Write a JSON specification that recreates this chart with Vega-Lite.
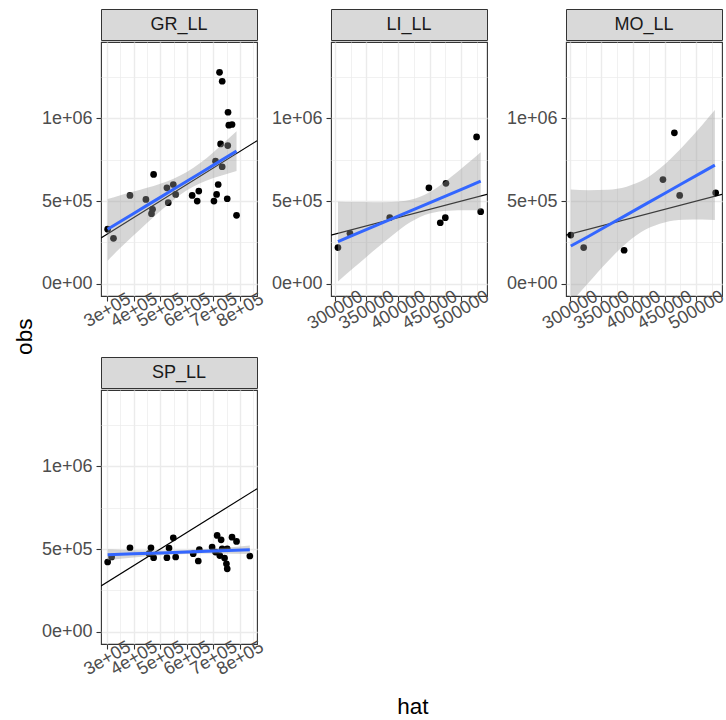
{
  "$schema": "https://vega.github.io/schema/vega-lite/v6.json",
  "background": "white",
  "padding": {"left": 14, "top": 8, "right": 0, "bottom": 5},
  "config": {
    "font": "Liberation Sans",
    "view": {"stroke": "#333333", "strokeWidth": 1.1},
    "axis": {"domain": false, "grid": true, "gridColor": "#EBEBEB", "tickColor": "#333333", "tickWidth": 1.1, "tickSize": 5, "labelFont": "Liberation Sans", "labelFontSize": 18, "labelColor": "#4D4D4D", "labelPadding": 3, "labelOverlap": false, "labelFlush": false},
    "axisX": {"labelAngle": -30, "labelAlign": "center", "labelBaseline": "middle", "labelPadding": 9},
    "axisY": {"labelPadding": 4},
    "title": {"font": "Liberation Sans", "fontWeight": "normal", "color": "#000000", "fontSize": 22.5}
  },
  "datasets": {
    "strips": [{"panel": "GR_LL"}, {"panel": "LI_LL"}, {"panel": "MO_LL"}, {"panel": "SP_LL"}],
    "pts": [
      {"panel": "GR_LL", "hat": 302000, "obs": 330000},
      {"panel": "GR_LL", "hat": 324000, "obs": 275000},
      {"panel": "GR_LL", "hat": 386000, "obs": 534000},
      {"panel": "GR_LL", "hat": 446000, "obs": 510000},
      {"panel": "GR_LL", "hat": 475000, "obs": 661000},
      {"panel": "GR_LL", "hat": 471000, "obs": 450000},
      {"panel": "GR_LL", "hat": 467000, "obs": 424000},
      {"panel": "GR_LL", "hat": 525000, "obs": 580000},
      {"panel": "GR_LL", "hat": 530000, "obs": 490000},
      {"panel": "GR_LL", "hat": 549000, "obs": 600000},
      {"panel": "GR_LL", "hat": 558000, "obs": 540000},
      {"panel": "GR_LL", "hat": 620000, "obs": 534000},
      {"panel": "GR_LL", "hat": 645000, "obs": 560000},
      {"panel": "GR_LL", "hat": 639000, "obs": 500000},
      {"panel": "GR_LL", "hat": 702000, "obs": 500000},
      {"panel": "GR_LL", "hat": 712000, "obs": 540000},
      {"panel": "GR_LL", "hat": 718000, "obs": 600000},
      {"panel": "GR_LL", "hat": 708000, "obs": 741000},
      {"panel": "GR_LL", "hat": 733000, "obs": 707000},
      {"panel": "GR_LL", "hat": 723000, "obs": 1277000},
      {"panel": "GR_LL", "hat": 733000, "obs": 1223000},
      {"panel": "GR_LL", "hat": 727000, "obs": 845000},
      {"panel": "GR_LL", "hat": 754000, "obs": 835000},
      {"panel": "GR_LL", "hat": 755000, "obs": 1036000},
      {"panel": "GR_LL", "hat": 758000, "obs": 958000},
      {"panel": "GR_LL", "hat": 770000, "obs": 962000},
      {"panel": "GR_LL", "hat": 752000, "obs": 514000},
      {"panel": "GR_LL", "hat": 787000, "obs": 414000},
      {"panel": "LI_LL", "hat": 305000, "obs": 219000},
      {"panel": "LI_LL", "hat": 324000, "obs": 305000},
      {"panel": "LI_LL", "hat": 387000, "obs": 400000},
      {"panel": "LI_LL", "hat": 449000, "obs": 580000},
      {"panel": "LI_LL", "hat": 476000, "obs": 607000},
      {"panel": "LI_LL", "hat": 467000, "obs": 369000},
      {"panel": "LI_LL", "hat": 475000, "obs": 400000},
      {"panel": "LI_LL", "hat": 524500, "obs": 887000},
      {"panel": "LI_LL", "hat": 531000, "obs": 436000},
      {"panel": "MO_LL", "hat": 301600, "obs": 295000},
      {"panel": "MO_LL", "hat": 322000, "obs": 219000},
      {"panel": "MO_LL", "hat": 386000, "obs": 203000},
      {"panel": "MO_LL", "hat": 447500, "obs": 630000},
      {"panel": "MO_LL", "hat": 465600, "obs": 912000},
      {"panel": "MO_LL", "hat": 474000, "obs": 534000},
      {"panel": "MO_LL", "hat": 531000, "obs": 550000},
      {"panel": "SP_LL", "hat": 302000, "obs": 422000},
      {"panel": "SP_LL", "hat": 317000, "obs": 452000},
      {"panel": "SP_LL", "hat": 386000, "obs": 508000},
      {"panel": "SP_LL", "hat": 465000, "obs": 508000},
      {"panel": "SP_LL", "hat": 475000, "obs": 448000},
      {"panel": "SP_LL", "hat": 458000, "obs": 472000},
      {"panel": "SP_LL", "hat": 525000, "obs": 448000},
      {"panel": "SP_LL", "hat": 533000, "obs": 506000},
      {"panel": "SP_LL", "hat": 549000, "obs": 568000},
      {"panel": "SP_LL", "hat": 558000, "obs": 452000},
      {"panel": "SP_LL", "hat": 624000, "obs": 472000},
      {"panel": "SP_LL", "hat": 643000, "obs": 428000},
      {"panel": "SP_LL", "hat": 647000, "obs": 496000},
      {"panel": "SP_LL", "hat": 695000, "obs": 512000},
      {"panel": "SP_LL", "hat": 714000, "obs": 582000},
      {"panel": "SP_LL", "hat": 729000, "obs": 556000},
      {"panel": "SP_LL", "hat": 708000, "obs": 482000},
      {"panel": "SP_LL", "hat": 724000, "obs": 461000},
      {"panel": "SP_LL", "hat": 742000, "obs": 446000},
      {"panel": "SP_LL", "hat": 749000, "obs": 411000},
      {"panel": "SP_LL", "hat": 752000, "obs": 381000},
      {"panel": "SP_LL", "hat": 752000, "obs": 502000},
      {"panel": "SP_LL", "hat": 770000, "obs": 572000},
      {"panel": "SP_LL", "hat": 787000, "obs": 546000},
      {"panel": "SP_LL", "hat": 837000, "obs": 458000},
      {"panel": "SP_LL", "hat": 733000, "obs": 502000}
    ],
    "abl": [
      {"panel": "GR_LL", "hat": 277000, "obs": 277000},
      {"panel": "GR_LL", "hat": 864000, "obs": 864000},
      {"panel": "LI_LL", "hat": 294000, "obs": 294000},
      {"panel": "LI_LL", "hat": 541000, "obs": 541000},
      {"panel": "MO_LL", "hat": 294000, "obs": 294000},
      {"panel": "MO_LL", "hat": 541000, "obs": 541000},
      {"panel": "SP_LL", "hat": 277000, "obs": 277000},
      {"panel": "SP_LL", "hat": 864000, "obs": 864000}
    ],
    "rib": [
      {"panel": "GR_LL", "hat": 302000, "fit": 330000, "lo": 140000, "hi": 512000},
      {"panel": "GR_LL", "hat": 350000, "fit": 376600, "lo": 217600, "hi": 535600},
      {"panel": "GR_LL", "hat": 400000, "fit": 425200, "lo": 293000, "hi": 557000},
      {"panel": "GR_LL", "hat": 450000, "fit": 473800, "lo": 368000, "hi": 580000},
      {"panel": "GR_LL", "hat": 500000, "fit": 522400, "lo": 440000, "hi": 605000},
      {"panel": "GR_LL", "hat": 550000, "fit": 571000, "lo": 507000, "hi": 635000},
      {"panel": "GR_LL", "hat": 600000, "fit": 619700, "lo": 565000, "hi": 675000},
      {"panel": "GR_LL", "hat": 650000, "fit": 668300, "lo": 607000, "hi": 729000},
      {"panel": "GR_LL", "hat": 700000, "fit": 716900, "lo": 639000, "hi": 795000},
      {"panel": "GR_LL", "hat": 750000, "fit": 765600, "lo": 664000, "hi": 867000},
      {"panel": "GR_LL", "hat": 787000, "fit": 801500, "lo": 681000, "hi": 922000},
      {"panel": "LI_LL", "hat": 305000, "fit": 255000, "lo": 14000, "hi": 496000},
      {"panel": "LI_LL", "hat": 330000, "fit": 295400, "lo": 97000, "hi": 494000},
      {"panel": "LI_LL", "hat": 360000, "fit": 343800, "lo": 195000, "hi": 493000},
      {"panel": "LI_LL", "hat": 390000, "fit": 392300, "lo": 289000, "hi": 495000},
      {"panel": "LI_LL", "hat": 420000, "fit": 440700, "lo": 373000, "hi": 508000},
      {"panel": "LI_LL", "hat": 450000, "fit": 489200, "lo": 425000, "hi": 553000},
      {"panel": "LI_LL", "hat": 480000, "fit": 537600, "lo": 442000, "hi": 633000},
      {"panel": "LI_LL", "hat": 510000, "fit": 586000, "lo": 445000, "hi": 727000},
      {"panel": "LI_LL", "hat": 531000, "fit": 620000, "lo": 445000, "hi": 795000},
      {"panel": "MO_LL", "hat": 301600, "fit": 229000, "lo": -112000, "hi": 570000},
      {"panel": "MO_LL", "hat": 330000, "fit": 287700, "lo": 9000, "hi": 566000},
      {"panel": "MO_LL", "hat": 360000, "fit": 352200, "lo": 135500, "hi": 569000},
      {"panel": "MO_LL", "hat": 390000, "fit": 416700, "lo": 247000, "hi": 587000},
      {"panel": "MO_LL", "hat": 420000, "fit": 481200, "lo": 328000, "hi": 634000},
      {"panel": "MO_LL", "hat": 450000, "fit": 545700, "lo": 371000, "hi": 720000},
      {"panel": "MO_LL", "hat": 480000, "fit": 610200, "lo": 387000, "hi": 834000},
      {"panel": "MO_LL", "hat": 510000, "fit": 674700, "lo": 388000, "hi": 961000},
      {"panel": "MO_LL", "hat": 529700, "fit": 717000, "lo": 385000, "hi": 1049000},
      {"panel": "SP_LL", "hat": 302000, "fit": 465600, "lo": 432600, "hi": 498600},
      {"panel": "SP_LL", "hat": 400000, "fit": 471200, "lo": 449000, "hi": 493000},
      {"panel": "SP_LL", "hat": 500000, "fit": 476800, "lo": 463000, "hi": 491000},
      {"panel": "SP_LL", "hat": 600000, "fit": 482500, "lo": 470500, "hi": 494500},
      {"panel": "SP_LL", "hat": 700000, "fit": 488200, "lo": 473000, "hi": 503000},
      {"panel": "SP_LL", "hat": 837000, "fit": 496000, "lo": 470000, "hi": 522000}
    ]
  },
  "title": {"text": "hat", "orient": "bottom", "anchor": "middle", "offset": 17, "dx": 42},
  "vconcat": [
    {
      "title": {"text": "obs", "orient": "left", "anchor": "middle", "offset": 4, "dx": 7},
      "spacing": 22,
      "vconcat": [
        {
          "spacing": 3,
          "hconcat": [
            {
              "spacing": 0,
              "vconcat": [
                {"width": 156, "height": 31, "data": {"name": "strips"}, "transform": [{"filter": "datum.panel === 'GR_LL'"}],
                 "view": {"fill": "#D9D9D9", "stroke": "#333333"},
                 "mark": {"type": "text", "fontSize": 18, "color": "#1A1A1A"},
                 "encoding": {"text": {"field": "panel"}}},
                {"width": 156, "height": 254,
                 "encoding": {
                   "x": {"field": "hat", "type": "quantitative", "scale": {"domain": [277000, 864000], "nice": false, "zero": false},
                         "axis": {"title": null, "labelOverlap": false, "labelFlush": false, "values": [300000, 350000, 400000, 450000, 500000, 550000, 600000, 650000, 700000, 750000, 800000, 850000],
                                  "labelExpr": "datum.value % 100000 === 0 ? (datum.value / 100000) + 'e+05' : ''",
                                  "tickOpacity": {"condition": {"test": "datum.value % 100000 !== 0", "value": 0}, "value": 1},
                                  "gridWidth": {"condition": {"test": "datum.value % 100000 !== 0", "value": 0.7}, "value": 1.4}}}
                 },
                 "layer": [
                   {"data": {"name": "pts"}, "transform": [{"filter": "datum.panel === 'GR_LL'"}],
                    "mark": {"type": "circle", "size": 45, "color": "#000000", "opacity": 1},
                    "encoding": {
                      "y": {"field": "obs", "type": "quantitative", "scale": {"domain": [-73000, 1460000], "nice": false, "zero": false},
                            "axis": {"title": null, "labelOverlap": false, "values": [0, 250000, 500000, 750000, 1000000, 1250000],
                                     "labelExpr": "datum.value === 0 ? '0e+00' : datum.value === 500000 ? '5e+05' : datum.value === 1000000 ? '1e+06' : ''",
                                     "tickOpacity": {"condition": {"test": "datum.value % 500000 !== 0", "value": 0}, "value": 1},
                                     "gridWidth": {"condition": {"test": "datum.value % 500000 !== 0", "value": 0.7}, "value": 1.4}}}}},
                   {"data": {"name": "abl"}, "transform": [{"filter": "datum.panel === 'GR_LL'"}],
                    "mark": {"type": "line", "color": "#000000", "strokeWidth": 1.2, "clip": true},
                    "encoding": {
                      "y": {"field": "obs", "type": "quantitative", "scale": {"domain": [-73000, 1460000], "nice": false, "zero": false}, "axis": {"title": null}}}},
                   {"data": {"name": "rib"}, "transform": [{"filter": "datum.panel === 'GR_LL'"}],
                    "mark": {"type": "area", "color": "#999999", "opacity": 0.4, "clip": true, "interpolate": "monotone"},
                    "encoding": {
                      "y": {"field": "lo", "type": "quantitative", "scale": {"domain": [-73000, 1460000], "nice": false, "zero": false}, "axis": {"title": null}},
                      "y2": {"field": "hi"}}},
                   {"data": {"name": "rib"}, "transform": [{"filter": "datum.panel === 'GR_LL'"}],
                    "mark": {"type": "line", "color": "#3366FF", "strokeWidth": 3, "clip": true},
                    "encoding": {
                      "y": {"field": "fit", "type": "quantitative", "scale": {"domain": [-73000, 1460000], "nice": false, "zero": false}, "axis": {"title": null}}}}
                 ]}
              ]
            },
            {
              "spacing": 12,
              "hconcat": [
                {
                  "spacing": 0,
                  "vconcat": [
                    {"width": 156, "height": 31, "data": {"name": "strips"}, "transform": [{"filter": "datum.panel === 'LI_LL'"}],
                     "view": {"fill": "#D9D9D9", "stroke": "#333333"},
                     "mark": {"type": "text", "fontSize": 18, "color": "#1A1A1A"},
                     "encoding": {"text": {"field": "panel"}}},
                    {"width": 156, "height": 254,
                     "encoding": {
                       "x": {"field": "hat", "type": "quantitative", "scale": {"domain": [294000, 541000], "nice": false, "zero": false},
                             "axis": {"title": null, "labelOverlap": false, "labelFlush": false, "values": [300000, 325000, 350000, 375000, 400000, 425000, 450000, 475000, 500000, 525000],
                                      "labelExpr": "datum.value % 50000 === 0 ? format(datum.value, 'd') : ''",
                                      "tickOpacity": {"condition": {"test": "datum.value % 50000 !== 0", "value": 0}, "value": 1},
                                      "gridWidth": {"condition": {"test": "datum.value % 50000 !== 0", "value": 0.7}, "value": 1.4}}}
                     },
                     "layer": [
                       {"data": {"name": "pts"}, "transform": [{"filter": "datum.panel === 'LI_LL'"}],
                        "mark": {"type": "circle", "size": 45, "color": "#000000", "opacity": 1},
                        "encoding": {
                          "y": {"field": "obs", "type": "quantitative", "scale": {"domain": [-73000, 1460000], "nice": false, "zero": false},
                                "axis": {"title": null, "labelOverlap": false, "values": [0, 250000, 500000, 750000, 1000000, 1250000],
                                         "labelExpr": "datum.value === 0 ? '0e+00' : datum.value === 500000 ? '5e+05' : datum.value === 1000000 ? '1e+06' : ''",
                                         "tickOpacity": {"condition": {"test": "datum.value % 500000 !== 0", "value": 0}, "value": 1},
                                         "gridWidth": {"condition": {"test": "datum.value % 500000 !== 0", "value": 0.7}, "value": 1.4}}}}},
                       {"data": {"name": "abl"}, "transform": [{"filter": "datum.panel === 'LI_LL'"}],
                        "mark": {"type": "line", "color": "#000000", "strokeWidth": 1.2, "clip": true},
                        "encoding": {
                          "y": {"field": "obs", "type": "quantitative", "scale": {"domain": [-73000, 1460000], "nice": false, "zero": false}, "axis": {"title": null}}}},
                       {"data": {"name": "rib"}, "transform": [{"filter": "datum.panel === 'LI_LL'"}],
                        "mark": {"type": "area", "color": "#999999", "opacity": 0.4, "clip": true, "interpolate": "monotone"},
                        "encoding": {
                          "y": {"field": "lo", "type": "quantitative", "scale": {"domain": [-73000, 1460000], "nice": false, "zero": false}, "axis": {"title": null}},
                          "y2": {"field": "hi"}}},
                       {"data": {"name": "rib"}, "transform": [{"filter": "datum.panel === 'LI_LL'"}],
                        "mark": {"type": "line", "color": "#3366FF", "strokeWidth": 3, "clip": true},
                        "encoding": {
                          "y": {"field": "fit", "type": "quantitative", "scale": {"domain": [-73000, 1460000], "nice": false, "zero": false}, "axis": {"title": null}}}}
                     ]}
                  ]
                },
                {
                  "spacing": 0,
                  "vconcat": [
                    {"width": 156, "height": 31, "data": {"name": "strips"}, "transform": [{"filter": "datum.panel === 'MO_LL'"}],
                     "view": {"fill": "#D9D9D9", "stroke": "#333333"},
                     "mark": {"type": "text", "fontSize": 18, "color": "#1A1A1A"},
                     "encoding": {"text": {"field": "panel"}}},
                    {"width": 156, "height": 254,
                     "encoding": {
                       "x": {"field": "hat", "type": "quantitative", "scale": {"domain": [294000, 541000], "nice": false, "zero": false},
                             "axis": {"title": null, "labelOverlap": false, "labelFlush": false, "values": [300000, 325000, 350000, 375000, 400000, 425000, 450000, 475000, 500000, 525000],
                                      "labelExpr": "datum.value % 50000 === 0 ? format(datum.value, 'd') : ''",
                                      "tickOpacity": {"condition": {"test": "datum.value % 50000 !== 0", "value": 0}, "value": 1},
                                      "gridWidth": {"condition": {"test": "datum.value % 50000 !== 0", "value": 0.7}, "value": 1.4}}}
                     },
                     "layer": [
                       {"data": {"name": "pts"}, "transform": [{"filter": "datum.panel === 'MO_LL'"}],
                        "mark": {"type": "circle", "size": 45, "color": "#000000", "opacity": 1},
                        "encoding": {
                          "y": {"field": "obs", "type": "quantitative", "scale": {"domain": [-73000, 1460000], "nice": false, "zero": false},
                                "axis": {"title": null, "labelOverlap": false, "values": [0, 250000, 500000, 750000, 1000000, 1250000],
                                         "labelExpr": "datum.value === 0 ? '0e+00' : datum.value === 500000 ? '5e+05' : datum.value === 1000000 ? '1e+06' : ''",
                                         "tickOpacity": {"condition": {"test": "datum.value % 500000 !== 0", "value": 0}, "value": 1},
                                         "gridWidth": {"condition": {"test": "datum.value % 500000 !== 0", "value": 0.7}, "value": 1.4}}}}},
                       {"data": {"name": "abl"}, "transform": [{"filter": "datum.panel === 'MO_LL'"}],
                        "mark": {"type": "line", "color": "#000000", "strokeWidth": 1.2, "clip": true},
                        "encoding": {
                          "y": {"field": "obs", "type": "quantitative", "scale": {"domain": [-73000, 1460000], "nice": false, "zero": false}, "axis": {"title": null}}}},
                       {"data": {"name": "rib"}, "transform": [{"filter": "datum.panel === 'MO_LL'"}],
                        "mark": {"type": "area", "color": "#999999", "opacity": 0.4, "clip": true, "interpolate": "monotone"},
                        "encoding": {
                          "y": {"field": "lo", "type": "quantitative", "scale": {"domain": [-73000, 1460000], "nice": false, "zero": false}, "axis": {"title": null}},
                          "y2": {"field": "hi"}}},
                       {"data": {"name": "rib"}, "transform": [{"filter": "datum.panel === 'MO_LL'"}],
                        "mark": {"type": "line", "color": "#3366FF", "strokeWidth": 3, "clip": true},
                        "encoding": {
                          "y": {"field": "fit", "type": "quantitative", "scale": {"domain": [-73000, 1460000], "nice": false, "zero": false}, "axis": {"title": null}}}}
                     ]}
                  ]
                }
              ]
            }
          ]
        },
        {
          "spacing": 0,
          "vconcat": [
            {"width": 156, "height": 31, "data": {"name": "strips"}, "transform": [{"filter": "datum.panel === 'SP_LL'"}],
             "view": {"fill": "#D9D9D9", "stroke": "#333333"},
             "mark": {"type": "text", "fontSize": 18, "color": "#1A1A1A"},
             "encoding": {"text": {"field": "panel"}}},
            {"width": 156, "height": 254,
             "encoding": {
               "x": {"field": "hat", "type": "quantitative", "scale": {"domain": [277000, 864000], "nice": false, "zero": false},
                     "axis": {"title": null, "labelOverlap": false, "labelFlush": false, "values": [300000, 350000, 400000, 450000, 500000, 550000, 600000, 650000, 700000, 750000, 800000, 850000],
                              "labelExpr": "datum.value % 100000 === 0 ? (datum.value / 100000) + 'e+05' : ''",
                              "tickOpacity": {"condition": {"test": "datum.value % 100000 !== 0", "value": 0}, "value": 1},
                              "gridWidth": {"condition": {"test": "datum.value % 100000 !== 0", "value": 0.7}, "value": 1.4}}}
             },
             "layer": [
               {"data": {"name": "pts"}, "transform": [{"filter": "datum.panel === 'SP_LL'"}],
                "mark": {"type": "circle", "size": 45, "color": "#000000", "opacity": 1},
                "encoding": {
                  "y": {"field": "obs", "type": "quantitative", "scale": {"domain": [-73000, 1460000], "nice": false, "zero": false},
                        "axis": {"title": null, "labelOverlap": false, "values": [0, 250000, 500000, 750000, 1000000, 1250000],
                                 "labelExpr": "datum.value === 0 ? '0e+00' : datum.value === 500000 ? '5e+05' : datum.value === 1000000 ? '1e+06' : ''",
                                 "tickOpacity": {"condition": {"test": "datum.value % 500000 !== 0", "value": 0}, "value": 1},
                                 "gridWidth": {"condition": {"test": "datum.value % 500000 !== 0", "value": 0.7}, "value": 1.4}}}}},
               {"data": {"name": "abl"}, "transform": [{"filter": "datum.panel === 'SP_LL'"}],
                "mark": {"type": "line", "color": "#000000", "strokeWidth": 1.2, "clip": true},
                "encoding": {
                  "y": {"field": "obs", "type": "quantitative", "scale": {"domain": [-73000, 1460000], "nice": false, "zero": false}, "axis": {"title": null}}}},
               {"data": {"name": "rib"}, "transform": [{"filter": "datum.panel === 'SP_LL'"}],
                "mark": {"type": "area", "color": "#999999", "opacity": 0.4, "clip": true, "interpolate": "monotone"},
                "encoding": {
                  "y": {"field": "lo", "type": "quantitative", "scale": {"domain": [-73000, 1460000], "nice": false, "zero": false}, "axis": {"title": null}},
                  "y2": {"field": "hi"}}},
               {"data": {"name": "rib"}, "transform": [{"filter": "datum.panel === 'SP_LL'"}],
                "mark": {"type": "line", "color": "#3366FF", "strokeWidth": 3, "clip": true},
                "encoding": {
                  "y": {"field": "fit", "type": "quantitative", "scale": {"domain": [-73000, 1460000], "nice": false, "zero": false}, "axis": {"title": null}}}}
             ]}
          ]
        }
      ]
    }
  ]
}
